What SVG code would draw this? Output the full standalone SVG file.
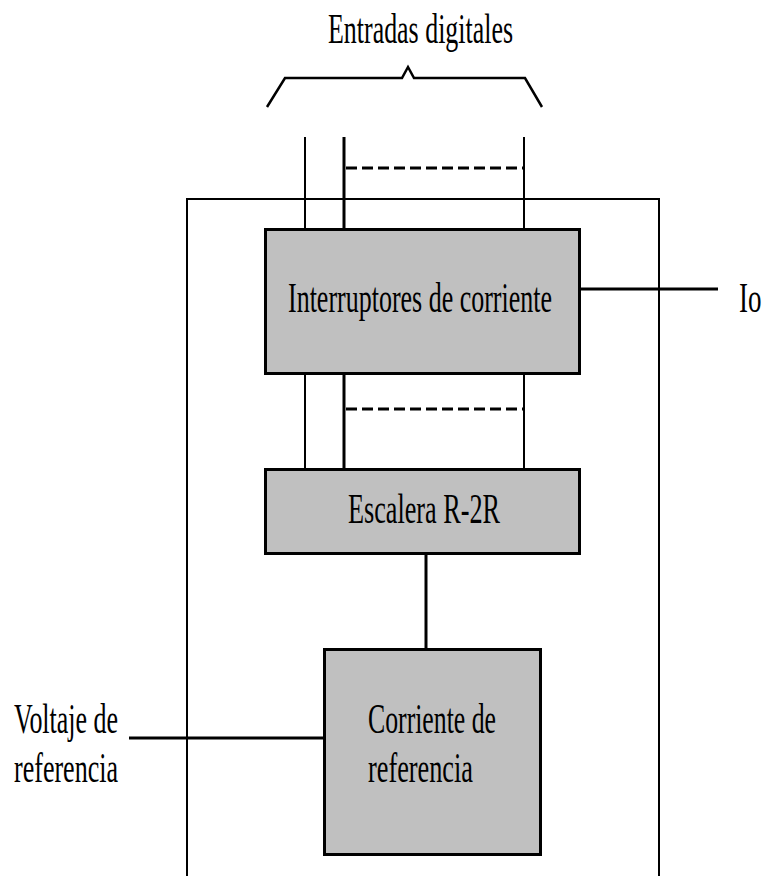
<svg xmlns="http://www.w3.org/2000/svg" width="766" height="876" viewBox="0 0 766 876">
<style>
.box{fill:#c0c0c0;stroke:#000;stroke-width:3}
.ln{stroke:#000;fill:none}
.t{font-family:"Liberation Serif","Times New Roman",serif;font-size:42px;fill:#000}
</style>
<rect width="766" height="876" fill="#fff"/>
<g id="title">
<text class="t" x="328" y="43" textLength="185" lengthAdjust="spacingAndGlyphs">Entradas digitales</text>
<path class="ln" stroke-width="2.5" d="M267,107 L285,78 L402,78 L408,67 L414,78 L525,78 L542,107"/>
</g>
<g id="connectors">
<path class="ln" stroke-width="2" d="M187,876 L187,199 L659,199 L659,876"/>
<line class="ln" stroke-width="2" x1="305" y1="137" x2="305" y2="469"/>
<line class="ln" stroke-width="3" x1="344" y1="137" x2="344" y2="469"/>
<line class="ln" stroke-width="2" x1="524" y1="137" x2="524" y2="469"/>
<line class="ln" stroke-width="3" stroke-dasharray="11 5" x1="346" y1="168" x2="524" y2="168"/>
<line class="ln" stroke-width="3" stroke-dasharray="11 5" x1="346" y1="409" x2="524" y2="409"/>
<line class="ln" stroke-width="3" x1="580" y1="289" x2="718" y2="289"/>
<line class="ln" stroke-width="3" x1="426" y1="554" x2="426" y2="649"/>
<line class="ln" stroke-width="3" x1="129" y1="738" x2="324" y2="738"/>
</g>
<g id="interruptores">
<rect class="box" x="265.5" y="229.5" width="314" height="144"/>
<text class="t" x="288" y="312" textLength="264" lengthAdjust="spacingAndGlyphs">Interruptores de corriente</text>
</g>
<g id="escalera">
<rect class="box" x="265.5" y="469.5" width="314" height="84"/>
<text class="t" x="348" y="523" textLength="152" lengthAdjust="spacingAndGlyphs">Escalera R-2R</text>
</g>
<g id="corriente">
<rect class="box" x="324.5" y="649.5" width="216" height="205"/>
<text class="t" x="368" y="733" textLength="128" lengthAdjust="spacingAndGlyphs">Corriente de</text>
<text class="t" x="368" y="782" textLength="105" lengthAdjust="spacingAndGlyphs">referencia</text>
</g>
<g id="io">
<text class="t" transform="translate(739,312) scale(1,1.55)" style="font-size:27px">Io</text>
</g>
<g id="voltaje">
<text class="t" x="14" y="733" textLength="104" lengthAdjust="spacingAndGlyphs">Voltaje de</text>
<text class="t" x="14" y="782" textLength="104" lengthAdjust="spacingAndGlyphs">referencia</text>
</g>
</svg>
